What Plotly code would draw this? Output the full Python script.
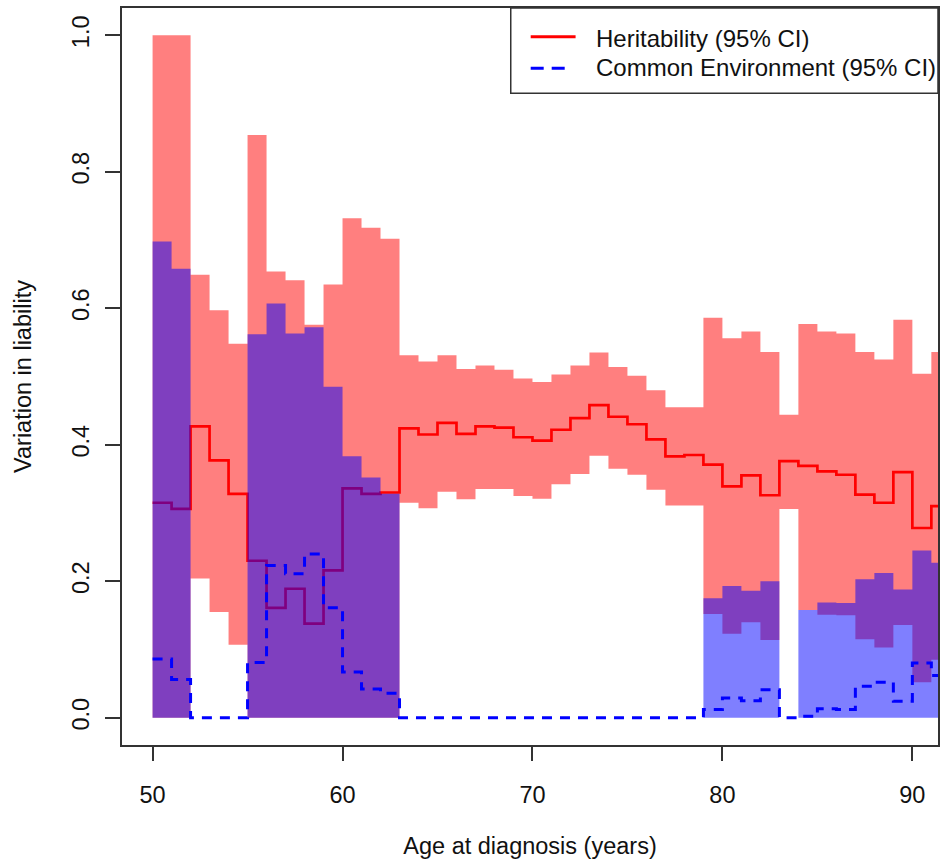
import plotly.graph_objects as go

# ---------------- data ----------------
ages = list(range(50, 92))  # 1-year bins, start of each bin

h_est = [0.315, 0.306, 0.427, 0.377, 0.328, 0.230, 0.161, 0.189, 0.138, 0.216,
         0.336, 0.328, 0.330, 0.424, 0.415, 0.432, 0.416, 0.427, 0.425, 0.411,
         0.406, 0.422, 0.439, 0.458, 0.441, 0.430, 0.408, 0.383, 0.385, 0.371,
         0.339, 0.355, 0.326, 0.376, 0.369, 0.361, 0.356, 0.327, 0.315, 0.360,
         0.278, 0.310]
h_low = [0.0, 0.0, 0.204, 0.155, 0.107, 0.0, 0.0, 0.0, 0.0, 0.0,
         0.0, 0.0, 0.0, 0.315, 0.307, 0.331, 0.320, 0.335, 0.335, 0.325,
         0.321, 0.342, 0.357, 0.384, 0.365, 0.356, 0.334, 0.311, 0.311, 0.152,
         0.123, 0.140, 0.114, 0.306, 0.158, 0.151, 0.150, 0.115, 0.103, 0.136,
         0.052, 0.085]
h_high = [1.0, 1.0, 0.649, 0.597, 0.548, 0.854, 0.654, 0.641, 0.576, 0.635,
          0.732, 0.718, 0.702, 0.531, 0.522, 0.531, 0.511, 0.516, 0.510, 0.497,
          0.492, 0.503, 0.516, 0.535, 0.514, 0.501, 0.480, 0.455, 0.455, 0.586,
          0.556, 0.566, 0.536, 0.444, 0.577, 0.566, 0.563, 0.536, 0.525, 0.583,
          0.504, 0.536]
c_est = [0.086, 0.056, 0.0, 0.0, 0.0, 0.081, 0.223, 0.211, 0.240, 0.161,
         0.067, 0.042, 0.036, 0.0, 0.0, 0.0, 0.0, 0.0, 0.0, 0.0,
         0.0, 0.0, 0.0, 0.0, 0.0, 0.0, 0.0, 0.0, 0.0, 0.012,
         0.029, 0.025, 0.041, 0.0, 0.002, 0.013, 0.012, 0.046, 0.052, 0.024,
         0.080, 0.062]
c_low = [0.0] * 42
c_high = [0.698, 0.658, 0.0, 0.0, 0.0, 0.562, 0.607, 0.563, 0.572, 0.485,
          0.383, 0.352, 0.328, 0.0, 0.0, 0.0, 0.0, 0.0, 0.0, 0.0,
          0.0, 0.0, 0.0, 0.0, 0.0, 0.0, 0.0, 0.0, 0.0, 0.175,
          0.193, 0.186, 0.200, 0.0, 0.158, 0.169, 0.168, 0.203, 0.212, 0.188,
          0.245, 0.227]

x_ticks = [50, 60, 70, 80, 90]
y_ticks = [0.0, 0.2, 0.4, 0.6, 0.8, 1.0]
y_ticktext = ["0.0", "0.2", "0.4", "0.6", "0.8", "1.0"]
legend_labels = ["Heritability (95% CI)", "Common Environment (95% CI)"]

# ---------------- helpers ----------------
def edges(vals):
    """step series: bin starts plus closing edge of the last bin"""
    return ages + [ages[-1] + 1], list(vals) + [vals[-1]]

RED_BAND = "rgba(255,0,0,0.5)"
BLUE_BAND = "rgba(0,0,255,0.5)"
FONT = "Liberation Sans, Arial, Helvetica, sans-serif"
FS = 23.5
TXT = "#111111"

fig = go.Figure()

# heritability CI band
x, y = edges(h_low)
fig.add_trace(go.Scatter(x=x, y=y, mode="lines", line=dict(width=0, shape="hv"),
                         hoverinfo="skip", showlegend=False))
x, y = edges(h_high)
fig.add_trace(go.Scatter(x=x, y=y, mode="lines", line=dict(width=0, shape="hv"),
                         fill="tonexty", fillcolor=RED_BAND, hoverinfo="skip",
                         showlegend=False))
# heritability estimate
x, y = edges(h_est)
fig.add_trace(go.Scatter(x=x, y=y, mode="lines", name=legend_labels[0],
                         line=dict(color="#ff0000", width=2.7, shape="hv"),
                         showlegend=False))
# common environment CI band
x, y = edges(c_low)
fig.add_trace(go.Scatter(x=x, y=y, mode="lines", line=dict(width=0, shape="hv"),
                         hoverinfo="skip", showlegend=False))
x, y = edges(c_high)
fig.add_trace(go.Scatter(x=x, y=y, mode="lines", line=dict(width=0, shape="hv"),
                         fill="tonexty", fillcolor=BLUE_BAND, hoverinfo="skip",
                         showlegend=False))
# common environment estimate
x, y = edges(c_est)
fig.add_trace(go.Scatter(x=x, y=y, mode="lines", name=legend_labels[1],
                         line=dict(color="#0000ff", width=3, shape="hv", dash="10px,8px"),
                         showlegend=False))

# ---------------- layout ----------------
W, H = 942, 863
ML, MR, MT, MB = 122, 2, 8, 118
PW, PH = W - ML - MR, H - MT - MB

def px(xp):
    return (xp - ML) / PW

def py(yp):
    return (H - MB - yp) / PH

axis_common = dict(showline=True, linecolor="#333333", linewidth=1.5, mirror=True,
                   ticks="outside", tickcolor="#333333", tickwidth=1.5,
                   showgrid=False, zeroline=False,
                   tickfont=dict(family=FONT, size=FS, color=TXT))

fig.update_layout(
    width=W, height=H,
    margin=dict(l=ML, r=MR, t=MT, b=MB),
    paper_bgcolor="white", plot_bgcolor="white",
    showlegend=False,
    xaxis=dict(range=[48.39, 91.35], tickvals=x_ticks, ticklen=14,
               ticklabelstandoff=14,
               title=dict(text="Age at diagnosis (years)", standoff=31,
                          font=dict(family=FONT, size=FS, color=TXT)),
               **axis_common),
    yaxis=dict(range=[-0.04, 1.04], tickvals=y_ticks, ticktext=y_ticktext,
               tickangle=-90, ticklen=15, ticklabelstandoff=7,
               title=dict(text="Variation in liability", standoff=30,
                          font=dict(family=FONT, size=FS, color=TXT)),
               **axis_common),
)

# manual legend box (R-style)
fig.add_shape(type="rect", xref="paper", yref="paper",
              x0=px(511.7), x1=1.0, y0=py(93.3), y1=1.0,
              line=dict(color="#333333", width=1.5), fillcolor="white", layer="above")
fig.add_shape(type="line", xref="paper", yref="paper",
              x0=px(531.7), x1=px(576.7), y0=py(36.7), y1=py(36.7),
              line=dict(color="#ff0000", width=3))
fig.add_shape(type="line", xref="paper", yref="paper",
              x0=px(531.7), x1=px(567), y0=py(68.3), y1=py(68.3),
              line=dict(color="#0000ff", width=3, dash="13px,8px"))
for label, yc in zip(legend_labels, [38, 68]):
    fig.add_annotation(xref="paper", yref="paper", x=px(595), y=py(yc),
                       xanchor="left", yanchor="middle", showarrow=False,
                       text=label, font=dict(family=FONT, size=24, color=TXT))

fig.write_html("out.html")
